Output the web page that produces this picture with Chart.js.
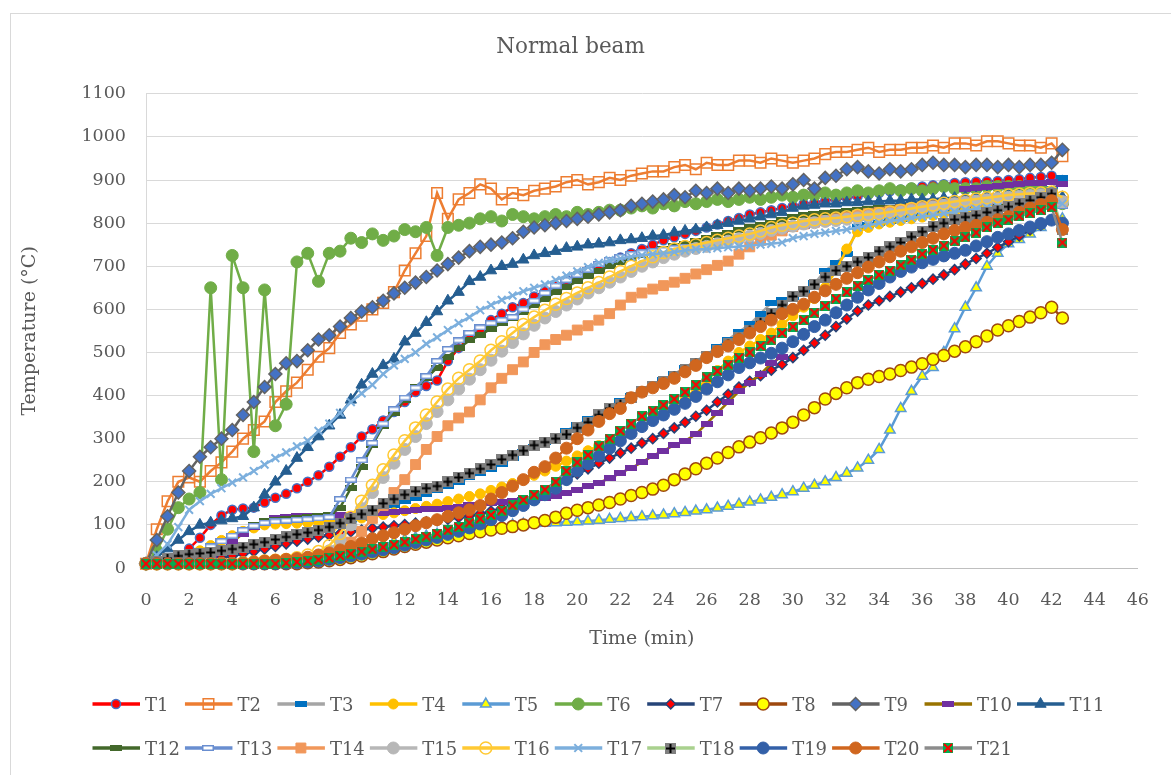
<!DOCTYPE html>
<html>
<head>
<meta charset="utf-8">
<title>Normal beam</title>
<script src="https://cdn.jsdelivr.net/npm/chart.js@4.4.1/dist/chart.umd.min.js"></script>
<style>
  html, body { margin: 0; padding: 0; background: #fff; }
  #wrap { position: relative; width: 1171px; height: 775px; }
</style>
</head>
<body>
<div id="wrap"><canvas id="chart" width="1171" height="775"></canvas></div>
<script>
// time axis (min), one reading every half minute
const minutes = [
  0, 0.5, 1, 1.5, 2, 2.5, 3, 3.5, 4, 4.5,
  5, 5.5, 6, 6.5, 7, 7.5, 8, 8.5, 9, 9.5,
  10, 10.5, 11, 11.5, 12, 12.5, 13, 13.5, 14, 14.5,
  15, 15.5, 16, 16.5, 17, 17.5, 18, 18.5, 19, 19.5,
  20, 20.5, 21, 21.5, 22, 22.5, 23, 23.5, 24, 24.5,
  25, 25.5, 26, 26.5, 27, 27.5, 28, 28.5, 29, 29.5,
  30, 30.5, 31, 31.5, 32, 32.5, 33, 33.5, 34, 34.5,
  35, 35.5, 36, 36.5, 37, 37.5, 38, 38.5, 39, 39.5,
  40, 40.5, 41, 41.5, 42, 42.5
];
const timeTicks = [0, 2, 4, 6, 8, 10, 12, 14, 16, 18, 20, 22, 24, 26, 28, 30, 32, 34, 36, 38, 40, 42, 44, 46];
const tempTicks = [0, 100, 200, 300, 400, 500, 600, 700, 800, 900, 1000, 1100];

// thermocouple readings (°C)
const T1 = [10,10,12,25,45,70,100,122,135,138, 140,152,163,172,185,200,215,235,258,280,
  305,322,342,362,385,408,422,435,480,510, 535,552,575,590,605,615,630,642,655,668,
  680,690,700,710,720,730,740,750,760,767, 775,782,790,797,805,812,820,825,830,835,
  840,845,848,852,855,858,862,866,870,874, 878,882,885,888,890,893,895,896,897,898,
  900,902,905,907,910,900];
const T2 = [10,90,155,200,210,200,225,245,270,300, 320,340,385,410,430,460,490,510,545,565,
  585,600,615,640,690,730,770,870,810,855, 870,890,880,855,870,865,875,880,885,895,
  900,890,895,905,900,910,915,920,920,930, 935,925,940,935,935,945,945,940,950,945,
  940,945,950,960,965,965,970,975,965,970, 970,975,975,980,975,985,985,980,990,990,
  985,980,980,975,985,955];
const T3 = [10,12,15,18,22,26,30,34,38,42, 47,52,57,63,69,75,82,90,98,106,
  115,125,135,145,155,163,172,180,190,200, 210,220,230,242,255,268,280,292,305,318,
  332,345,360,375,388,400,412,424,436,450, 465,480,495,512,530,548,565,590,615,622,
  628,640,660,690,708,728,790,795,800,805, 810,815,820,825,830,835,840,845,850,855,
  860,865,870,875,880,905];
const T4 = [10,10,12,18,28,40,52,64,75,85, 93,100,102,103,104,105,106,108,110,113,
  116,120,124,128,133,138,143,148,154,160, 166,172,180,188,196,205,215,225,236,248,
  260,272,284,292,300,315,330,345,360,378, 395,415,435,458,480,500,515,530,545,565,
  585,605,625,650,690,740,780,790,798,802, 806,810,814,818,822,826,830,834,838,842,
  846,850,852,855,858,850];
const T5 = [10,10,10,10,10,10,10,10,10,10, 10,10,10,12,15,18,22,27,32,38,
  44,50,55,60,65,70,74,78,82,86, 90,93,96,98,100,102,103,104,105,106,
  107,109,111,113,115,117,119,121,123,126, 129,132,135,139,143,148,153,158,164,170,
  177,185,192,200,210,220,232,250,275,320, 370,410,445,465,500,555,605,650,700,730,
  752,762,775,790,805,810];
const T6 = [10,40,90,140,160,175,650,205,725,650, 270,645,330,380,710,730,665,730,735,765,
  755,775,760,770,785,780,790,725,790,795, 800,810,815,805,820,815,810,815,820,815,
  825,820,825,830,830,835,840,835,845,840, 850,845,850,855,850,855,860,855,860,865,
  860,865,865,870,865,870,875,870,875,880, 875,880,875,880,885,880,880,880,885,885,
  885,885,885,880,870,845];
const T7 = [10,10,10,12,14,17,20,24,28,33, 38,44,50,56,62,67,72,76,80,84,
  88,92,95,98,101,104,107,110,113,117, 121,126,132,139,146,155,163,175,190,205,
  218,230,243,255,267,278,290,300,312,325, 338,352,366,385,403,420,433,446,459,472,
  488,505,522,540,560,578,596,610,620,630, 640,650,660,670,680,692,705,718,730,744,
  757,770,784,795,807,800];
const T8 = [10,10,10,10,10,10,10,10,10,10, 10,10,10,10,10,12,14,17,20,24,
  28,33,38,44,50,55,60,65,70,75, 80,84,88,92,96,100,105,110,118,127,
  134,140,146,152,160,168,175,183,192,205, 218,230,243,255,268,281,292,302,313,325,
  338,355,372,392,405,418,430,438,444,450, 458,466,474,484,493,503,513,525,538,552,
  562,572,582,592,605,580];
const T9 = [10,65,120,175,225,258,280,300,320,355, 385,420,450,475,480,505,530,540,560,580,
  595,605,620,637,650,662,675,690,705,720, 735,745,750,755,765,780,790,795,800,805,
  810,815,820,825,830,840,845,850,855,865, 860,875,870,880,870,880,875,880,885,880,
  890,900,880,905,910,925,930,920,915,925, 920,925,935,940,935,935,930,935,935,930,
  935,930,935,935,940,970];
const T10 = [10,10,10,12,15,20,30,45,60,80, 95,110,115,118,120,120,120,120,122,124,
  125,127,128,130,132,134,136,138,140,142, 145,147,150,152,155,157,158,162,168,175,
  182,190,198,208,220,232,245,260,272,285, 295,310,335,360,385,410,430,450,475,490,
  null,null,null,null,null,null,null,null,null,null, null,null,null,null,null,null,880,882,884,886,
  888,890,892,893,895,890];
const T11 = [10,25,45,65,85,100,105,110,115,120, 140,170,200,225,255,280,305,330,355,390,
  425,450,470,485,525,545,570,595,620,640, 665,675,690,700,705,715,725,730,735,742,
  745,750,752,755,760,762,765,770,772,778, 782,785,790,795,800,805,810,815,820,825,
  835,840,842,845,845,848,848,850,850,852, 852,855,855,855,858,858,860,860,862,862,
  865,865,865,868,870,860];
const T12 = [10,12,15,20,28,38,50,62,75,88, 100,108,112,114,116,118,120,122,140,185,
  235,285,330,360,390,420,440,465,490,510, 528,540,555,568,580,595,610,625,640,652,
  665,678,690,700,710,718,725,732,740,746, 752,758,765,772,778,784,790,795,800,808,
  815,818,822,824,825,828,830,832,835,836, 838,839,840,842,843,844,845,847,848,849,
  850,851,852,853,855,845];
const T13 = [10,12,15,20,28,38,50,62,75,88, 98,105,108,110,112,113,115,118,160,205,
  250,290,335,368,395,418,445,480,508,528, 545,558,568,575,582,600,620,638,655,668,
  680,692,705,715,722,728,732,735,738,742, 745,748,752,756,760,765,770,775,780,785,
  790,794,798,802,806,810,813,816,820,823, 826,829,832,835,838,841,844,847,850,852,
  855,857,859,861,863,840];
const T14 = [10,10,10,10,10,10,10,10,10,10, 10,12,14,16,18,20,25,32,42,60,
  85,115,145,175,205,240,275,305,330,348, 362,390,418,440,460,478,500,518,530,540,
  552,562,575,590,610,628,638,647,655,663, 672,682,692,702,712,728,745,760,772,782,
  792,798,802,806,810,814,818,822,825,828, 831,834,837,840,843,846,849,852,855,857,
  859,861,863,864,865,850];
const T15 = [10,10,10,10,10,10,10,10,10,10, 12,14,16,18,20,24,30,40,65,100,
  138,175,210,243,275,305,335,363,390,415, 438,460,482,503,523,543,563,580,595,610,
  624,638,650,663,675,688,700,710,720,728, 735,741,746,752,758,764,770,776,783,788,
  793,798,801,804,806,809,812,815,818,821, 825,829,833,837,841,845,848,851,854,857,
  860,862,864,866,868,850];
const T16 = [10,10,10,10,10,10,10,10,10,12, 14,16,18,20,24,30,38,52,80,118,
  155,192,228,262,295,325,355,385,415,440, 460,480,505,525,545,565,582,598,612,625,
  638,650,662,675,688,700,712,722,732,740, 746,750,755,760,765,770,775,782,790,795,
  800,805,808,810,812,815,818,820,822,826, 830,834,838,842,846,850,853,856,859,862,
  865,867,869,870,872,860];
const T17 = [10,30,55,95,135,155,172,185,198,210, 225,240,255,268,282,295,318,335,360,385,
  405,425,450,470,485,500,520,535,552,568, 582,598,610,622,632,642,650,658,668,678,
  688,698,708,714,718,722,725,728,730,733, 736,739,740,742,744,746,748,750,752,755,
  765,770,775,778,782,785,790,795,800,805, 808,812,815,818,822,826,830,833,836,838,
  840,843,846,848,850,845];
const T18 = [10,15,22,28,32,34,36,40,44,48, 55,60,66,72,78,82,88,95,104,115,
  125,134,150,160,170,178,185,190,200,210, 220,230,240,252,262,272,285,292,300,310,
  325,338,355,370,380,395,410,420,432,445, 460,475,490,505,520,535,552,570,590,610,
  630,642,658,675,690,700,710,720,735,745, 755,768,780,792,800,808,814,818,825,830,
  838,845,853,860,868,785];
const T19 = [10,10,10,10,10,10,10,10,10,10, 10,10,10,11,12,14,16,20,24,28,
  32,37,42,47,53,59,65,71,78,85, 93,102,112,122,133,145,158,170,185,205,
  225,242,260,278,295,312,328,342,355,368, 382,398,415,432,448,465,476,487,498,510,
  525,542,560,575,592,610,628,645,660,675, 688,698,708,716,724,730,737,747,757,767,
  775,783,791,799,807,800];
const T20 = [10,10,10,10,10,10,10,10,10,12, 14,16,18,20,22,25,30,35,42,50,
  58,68,75,82,90,98,105,112,120,128, 135,145,160,175,190,205,222,235,255,278,
  300,320,340,358,370,395,408,418,428,440, 455,470,488,502,515,530,545,560,575,590,
  600,612,628,643,658,672,685,698,710,722, 735,745,755,765,775,783,790,795,802,808,
  815,825,835,843,852,785];
const T21 = [10,10,10,10,10,10,10,10,10,10, 10,10,10,12,14,16,19,23,28,33,
  38,43,48,54,60,67,73,80,87,95, 105,114,123,133,145,158,170,182,200,225,
  245,262,282,300,318,335,352,365,378,392, 408,425,442,457,472,488,500,515,530,545,
  560,575,592,608,625,640,655,668,680,690, 702,715,728,738,748,758,767,778,790,800,
  808,816,823,830,837,755];

const seriesNames = ['T1','T2','T3','T4','T5','T6','T7','T8','T9','T10','T11',
  'T12','T13','T14','T15','T16','T17','T18','T19','T20','T21'];
const seriesValues = [T1,T2,T3,T4,T5,T6,T7,T8,T9,T10,T11,T12,T13,T14,T15,T16,T17,T18,T19,T20,T21];

const FONT = '"DejaVu Serif", "Liberation Serif", serif';
const GREY_TEXT = '#595959';

// small canvases for the Excel markers chart.js has no built-in for
function markerCanvas(w, h, draw) {
  const c = document.createElement('canvas');
  c.width = w; c.height = h;
  draw(c.getContext('2d'), w, h);
  return c;
}
function dash(fill, edge) {
  return markerCanvas(12, 6, (g, w, h) => {
    g.fillStyle = fill;
    g.fillRect(0, 0, w, h);
    if (edge) {
      g.strokeStyle = edge; g.lineWidth = 1.5;
      g.strokeRect(0.75, 0.75, w - 1.5, h - 1.5);
    }
  });
}
const plusBox = markerCanvas(11, 11, (g, w, h) => {
  g.fillStyle = '#808080'; g.fillRect(0, 0, w, h);
  g.strokeStyle = '#000'; g.lineWidth = 2;
  g.beginPath();
  g.moveTo(5.5, 1); g.lineTo(5.5, 10);
  g.moveTo(1, 5.5); g.lineTo(10, 5.5);
  g.stroke();
});
const crossBox = markerCanvas(10, 10, (g, w, h) => {
  g.fillStyle = '#00B050'; g.fillRect(0, 0, w, h);
  g.strokeStyle = '#FF0000'; g.lineWidth = 2;
  g.beginPath();
  g.moveTo(1, 1); g.lineTo(9, 9);
  g.moveTo(9, 1); g.lineTo(1, 9);
  g.stroke();
});

// look of each series (line colour, marker)
const looks = [
  {line: '#FF0000', style: 'circle', r: 4.5, fill: '#FF0000', edge: '#4472C4', ew: 1.5},
  {line: '#ED7D31', style: 'rect', r: 7.5, fill: 'rgba(255,255,255,0)', edge: '#ED7D31', ew: 1.5},
  {line: '#A5A5A5', style: dash('#0070C0')},
  {line: '#FFC000', style: 'circle', r: 5, fill: '#FFC000', edge: '#FFC000', ew: 1},
  {line: '#5B9BD5', style: 'triangle', r: 6, fill: '#FFFF00', edge: '#5B9BD5', ew: 1.5},
  {line: '#70AD47', style: 'circle', r: 6, fill: '#70AD47', edge: '#70AD47', ew: 1},
  {line: '#264478', style: 'rectRot', r: 5, fill: '#FF0000', edge: '#264478', ew: 1.5},
  {line: '#9E480E', style: 'circle', r: 6, fill: '#FFFF00', edge: '#9E480E', ew: 1.5},
  {line: '#636363', style: 'rectRot', r: 6.5, fill: '#4472C4', edge: '#636363', ew: 1.5},
  {line: '#997300', style: dash('#7030A0')},
  {line: '#255E91', style: 'triangle', r: 6.5, fill: '#255E91', edge: '#255E91', ew: 1},
  {line: '#43682B', style: dash('#43682B')},
  {line: '#698ED0', style: dash('#FFFFFF', '#698ED0')},
  {line: '#F1975A', style: 'rect', r: 7, fill: '#F1975A', edge: '#F1975A', ew: 1},
  {line: '#B7B7B7', style: 'circle', r: 6, fill: '#B7B7B7', edge: '#B7B7B7', ew: 1},
  {line: '#FFC933', style: 'circle', r: 6, fill: 'rgba(255,255,255,0)', edge: '#FFC933', ew: 1.5},
  {line: '#7CAFDD', style: 'crossRot', r: 5.5, fill: '#7CAFDD', edge: '#7CAFDD', ew: 2},
  {line: '#A9D18E', style: plusBox},
  {line: '#3360A8', style: 'circle', r: 6, fill: '#3360A8', edge: '#3360A8', ew: 1},
  {line: '#D0661E', style: 'circle', r: 6, fill: '#D0661E', edge: '#D0661E', ew: 1},
  {line: '#8C8C8C', style: crossBox}
];

const datasets = seriesNames.map((name, i) => {
  const look = looks[i];
  const isImg = typeof look.style !== 'string';
  return {
    label: name,
    data: minutes.map((m, k) => ({x: m, y: seriesValues[i][k]})),
    showLine: true,
    spanGaps: false,
    borderColor: look.line,
    borderWidth: 2.5,
    pointStyle: look.style,
    pointRadius: isImg ? 5 : look.r,
    pointBackgroundColor: isImg ? look.line : look.fill,
    pointBorderColor: isImg ? look.line : look.edge,
    pointBorderWidth: isImg ? 0 : look.ew,
    order: -i,   // later series on top, like the spreadsheet
    clip: false
  };
});

// marker drawing for the legend
function drawMarker(ctx, look, x, y) {
  const s = look.style;
  if (typeof s !== 'string') {
    ctx.drawImage(s, Math.round(x - s.width / 2), Math.round(y - s.height / 2));
    return;
  }
  const r = look.r;
  ctx.beginPath();
  if (s === 'circle') {
    ctx.arc(x, y, r, 0, Math.PI * 2);
  } else if (s === 'rect') {
    const h = r * Math.SQRT1_2;
    ctx.rect(x - h, y - h, 2 * h, 2 * h);
  } else if (s === 'rectRot') {
    ctx.moveTo(x, y - r); ctx.lineTo(x + r, y); ctx.lineTo(x, y + r); ctx.lineTo(x - r, y);
    ctx.closePath();
  } else if (s === 'triangle') {
    let a = 0;
    for (let k = 0; k < 3; k++) {
      const px = x + Math.sin(a) * r, py = y - Math.cos(a) * r;
      if (k === 0) ctx.moveTo(px, py); else ctx.lineTo(px, py);
      a += Math.PI * 2 / 3;
    }
    ctx.closePath();
  } else if (s === 'crossRot') {
    const d = r * Math.SQRT1_2;
    ctx.moveTo(x - d, y - d); ctx.lineTo(x + d, y + d);
    ctx.moveTo(x + d, y - d); ctx.lineTo(x - d, y + d);
  }
  ctx.fillStyle = look.fill;
  ctx.strokeStyle = look.edge;
  ctx.lineWidth = look.ew;
  if (s !== 'crossRot') ctx.fill();
  ctx.stroke();
}

const frameAndLegend = {
  id: 'frameAndLegend',
  beforeDraw(chart) {
    const ctx = chart.ctx;
    ctx.save();
    ctx.fillStyle = '#fff';
    ctx.fillRect(0, 0, chart.width, chart.height);
    ctx.strokeStyle = '#D9D9D9';
    ctx.lineWidth = 1;
    ctx.strokeRect(10.5, 13.5, chart.width + 20, chart.height + 20);
    ctx.restore();
  },
  afterDraw(chart) {
    const ctx = chart.ctx;
    ctx.save();
    ctx.font = '18px ' + FONT;
    ctx.textBaseline = 'alphabetic';
    seriesNames.forEach((name, i) => {
      const row = i < 11 ? 0 : 1;
      const col = i < 11 ? i : i - 11;
      const x0 = 92.5 + col * 92.45;
      const y = row === 0 ? 704 : 748;
      ctx.strokeStyle = looks[i].line;
      ctx.lineWidth = 3.5;
      ctx.beginPath();
      ctx.moveTo(x0, y); ctx.lineTo(x0 + 47.5, y);
      ctx.stroke();
      drawMarker(ctx, looks[i], x0 + 23.5, y);
      ctx.fillStyle = GREY_TEXT;
      ctx.fillText(name, x0 + 52.5, y + 6.5);
    });
    ctx.restore();
  }
};

new Chart(document.getElementById('chart'), {
  type: 'scatter',
  data: {datasets},
  plugins: [frameAndLegend],
  options: {
    responsive: false,
    animation: false,
    events: [],
    layout: {padding: {left: 0, right: 30, top: 0, bottom: 125}},
    plugins: {
      legend: {display: false},
      tooltip: {enabled: false},
      title: {
        display: true,
        text: 'Normal beam',
        color: GREY_TEXT,
        font: {family: FONT, size: 21.5, weight: 'normal'},
        padding: {top: 35, bottom: 33}
      }
    },
    scales: {
      x: {
        type: 'linear',
        min: 0,
        max: 46,
        afterBuildTicks: s => { s.ticks = timeTicks.map(v => ({value: v})); },
        afterFit: s => { s.height = 82; },
        ticks: {color: GREY_TEXT, font: {family: FONT, size: 17.5}, padding: 22, autoSkip: false, maxRotation: 0,
          callback: v => String(v)},
        grid: {display: false, drawTicks: false},
        border: {display: true, color: '#BFBFBF', width: 1},
        title: {display: true, text: 'Time (min)', color: GREY_TEXT,
          font: {family: FONT, size: 19}, padding: {top: 0, bottom: 0}}
      },
      y: {
        min: 0,
        max: 1100,
        afterBuildTicks: s => { s.ticks = tempTicks.map(v => ({value: v})); },
        afterFit: s => { s.width = 146; },
        ticks: {color: GREY_TEXT, font: {family: FONT, size: 17.5}, padding: 20,
          callback: v => String(v)},
        grid: {color: '#D9D9D9', lineWidth: 1, drawTicks: false},
        border: {display: true, color: '#D9D9D9', width: 1},
        title: {display: true, text: 'Temperature (°C)', color: GREY_TEXT,
          font: {family: FONT, size: 19}, padding: {top: 19, bottom: 0}}
      }
    }
  }
});
</script>
</body>
</html>
